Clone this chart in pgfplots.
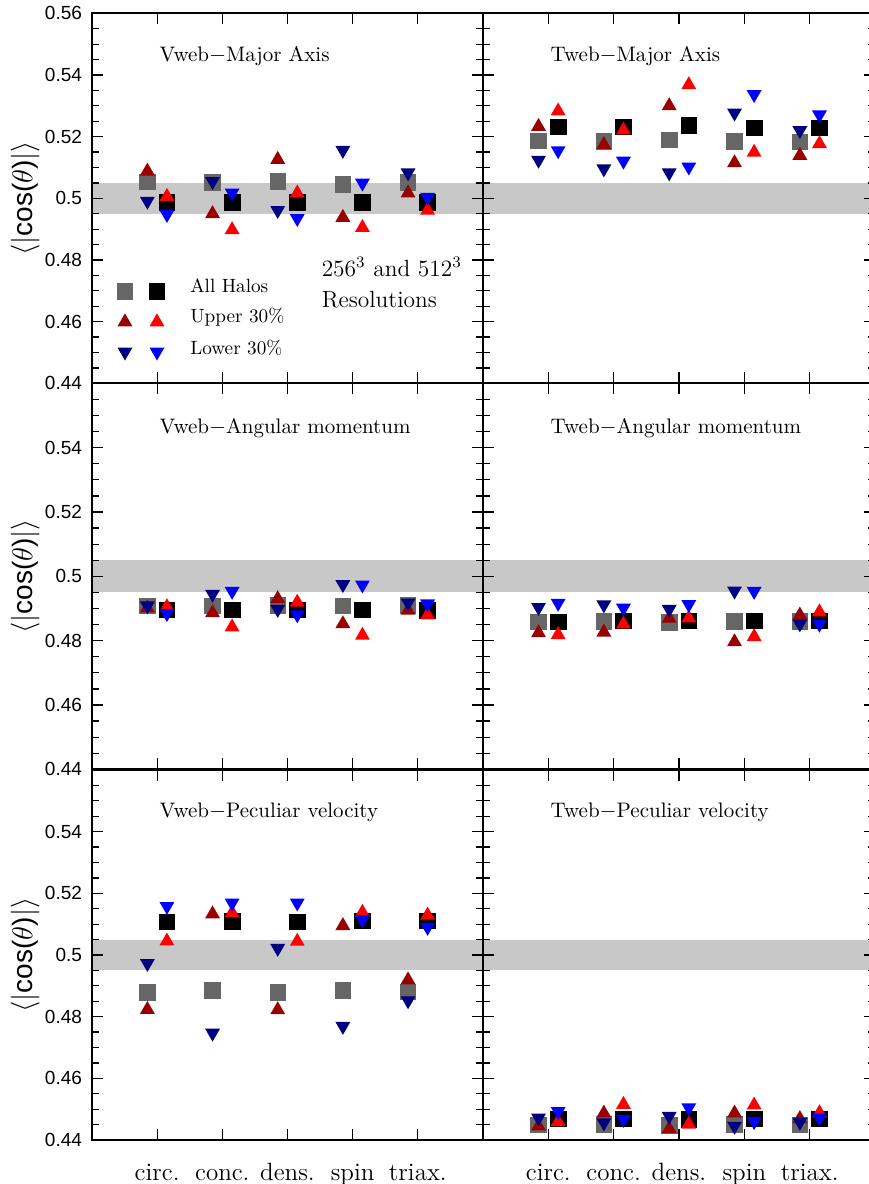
\documentclass[border=0pt]{standalone}
\usepackage{fontspec}
\usepackage{pgfplots}
\pgfplotsset{compat=1.18}
\newfontfamily\ticksans{Liberation Sans}

\definecolor{sqgray}{RGB}{102,102,102}
\definecolor{updark}{RGB}{153,0,0}
\definecolor{upred}{RGB}{255,0,0}
\definecolor{dnnavy}{RGB}{0,0,128}
\definecolor{dnblue}{RGB}{0,0,255}
\definecolor{bandgray}{RGB}{200,200,200}

% triangles centred on their bounding box
\pgfdeclareplotmark{utri}{%
  \pgfpathmoveto{\pgfqpoint{0pt}{0.75\pgfplotmarksize}}%
  \pgfpathlineto{\pgfqpoint{-0.866\pgfplotmarksize}{-0.75\pgfplotmarksize}}%
  \pgfpathlineto{\pgfqpoint{0.866\pgfplotmarksize}{-0.75\pgfplotmarksize}}%
  \pgfpathclose\pgfusepathqfill}
\pgfdeclareplotmark{dtri}{%
  \pgfpathmoveto{\pgfqpoint{0pt}{-0.75\pgfplotmarksize}}%
  \pgfpathlineto{\pgfqpoint{-0.866\pgfplotmarksize}{0.75\pgfplotmarksize}}%
  \pgfpathlineto{\pgfqpoint{0.866\pgfplotmarksize}{0.75\pgfplotmarksize}}%
  \pgfpathclose\pgfusepathqfill}

\pgfplotsset{
  panel/.style={
    scale only axis, anchor=north west,
    xmin=0, xmax=6, ymin=0.44, ymax=0.56,
    xtick={1,2,3,4,5}, xticklabels={},
    ytick={0.44,0.46,0.48,0.5,0.52,0.54,0.56}, yticklabels={},
    minor y tick num=3,
    tick align=inside, xtick pos=both, ytick pos=both,
    major tick length=5.5pt, minor tick length=3.3pt,
    axis line style={line width=0.9pt},
    every tick/.style={black, line width=0.6pt},
    yticklabel style={font=\ticksans\fontsize{9.5}{11}\selectfont, xshift=-1.5pt},
    xticklabel style={font=\fontsize{12.5}{14}\selectfont, anchor=base, yshift=-20pt},
    ylabel style={at={(axis description cs:-0.171,0.5)}, anchor=center,
                  font=\ticksans\fontsize{14}{16}\selectfont},
    axis on top, clip=false,
  },
  leftcol/.style={width=195.5pt, ylabel={$\langle|$cos($\theta$)$|\rangle$}},
  rightcol/.style={width=196pt},
  s256/.style={only marks, mark=square*, mark size=3.9pt, color=sqgray},
  s512/.style={only marks, mark=square*, mark size=3.9pt, color=black},
  u256/.style={only marks, mark=utri, mark size=4.3pt, color=updark},
  u512/.style={only marks, mark=utri, mark size=4.3pt, color=upred},
  d256/.style={only marks, mark=dtri, mark size=4.3pt, color=dnnavy},
  d512/.style={only marks, mark=dtri, mark size=4.3pt, color=dnblue},
}
\newcommand{\band}{\addplot[draw=none, fill=bandgray, forget plot]
  coordinates {(0,0.495) (6,0.495) (6,0.505) (0,0.505)} -- cycle;}
\newcommand{\ptitle}[1]{\node[anchor=base west, inner sep=0pt, font=\fontsize{10.5}{12}\selectfont]
  at (axis cs:1.03,0.5445) {#1};}
% heavier line between the two columns
\newcommand{\divider}{\draw[line width=1.4pt] (axis description cs:0,0) -- (axis description cs:0,1);}

\begin{document}
\begin{tikzpicture}

% ---------------- top left: Vweb - major axis
\begin{axis}[panel, leftcol, height=185pt, at={(46pt,-6.67pt)},
    yticklabels={0.44,0.46,0.48,0.5,0.52,0.54,0.56}]
\band
\addplot[s256] coordinates {(0.85,0.5053) (1.85,0.5051) (2.85,0.5055) (3.85,0.5046) (4.85,0.5052)};
\addplot[s512] coordinates {(1.15,0.4986) (2.15,0.4986) (3.15,0.4986) (4.15,0.4986) (5.15,0.4986)};
\addplot[u256] coordinates {(0.85,0.5095) (1.85,0.4957) (2.85,0.5133) (3.85,0.4945) (4.85,0.5024)};
\addplot[u512] coordinates {(1.15,0.5013) (2.15,0.4905) (3.15,0.5024) (4.15,0.4912) (5.15,0.4968)};
\addplot[d256] coordinates {(0.85,0.4984) (1.85,0.5048) (2.85,0.4954) (3.85,0.5149) (4.85,0.5076)};
\addplot[d512] coordinates {(1.15,0.4941) (2.15,0.5011) (3.15,0.4928) (4.15,0.5043) (5.15,0.4997)};
% legend markers
\addplot[s256] coordinates {(0.506,0.4699)};
\addplot[s512] coordinates {(0.997,0.4699)};
\addplot[u256] coordinates {(0.506,0.4606)};
\addplot[u512] coordinates {(0.997,0.4606)};
\addplot[d256] coordinates {(0.506,0.4495)};
\addplot[d512] coordinates {(0.997,0.4495)};
\ptitle{Vweb$-$Major Axis}
\begin{scope}[font=\fontsize{9.6}{11}\selectfont]
\node[anchor=base west, inner sep=0pt] at (axis cs:1.503,0.4695) {All Halos};
\node[anchor=base west, inner sep=0pt] at (axis cs:1.503,0.4597) {Upper 30\%};
\node[anchor=base west, inner sep=0pt] at (axis cs:1.503,0.4495) {Lower 30\%};
\end{scope}
\node[anchor=base west, inner sep=0pt, font=\fontsize{11.7}{13}\selectfont] at (axis cs:3.52,0.4746) {256$^3$ and 512$^3$};
\node[anchor=base west, inner sep=0pt, font=\fontsize{11.7}{13}\selectfont] at (axis cs:3.52,0.4646) {Resolutions};
\end{axis}

% ---------------- top right: Tweb - major axis
\begin{axis}[panel, rightcol, height=185pt, at={(241.5pt,-6.67pt)}]
\band
\addplot[s256] coordinates {(0.85,0.5186) (1.85,0.5184) (2.85,0.5189) (3.85,0.5184) (4.85,0.5183)};
\addplot[s512] coordinates {(1.15,0.5232) (2.15,0.5232) (3.15,0.5236) (4.15,0.5228) (5.15,0.5228)};
\addplot[u256] coordinates {(0.85,0.5240) (1.85,0.5181) (2.85,0.5307) (3.85,0.5122) (4.85,0.5146)};
\addplot[u512] coordinates {(1.15,0.5290) (2.15,0.5228) (3.15,0.5375) (4.15,0.5156) (5.15,0.5184)};
\addplot[d256] coordinates {(0.85,0.5117) (1.85,0.5089) (2.85,0.5076) (3.85,0.5270) (4.85,0.5213)};
\addplot[d512] coordinates {(1.15,0.5148) (2.15,0.5114) (3.15,0.5095) (4.15,0.5330) (5.15,0.5264)};
\ptitle{Tweb$-$Major Axis}
\divider
\end{axis}

% ---------------- middle left: Vweb - angular momentum
\begin{axis}[panel, leftcol, height=193pt, at={(46pt,-191.67pt)},
    yticklabels={0.44,0.46,0.48,0.5,0.52,0.54,{}}]
\band
\addplot[s256] coordinates {(0.85,0.4908) (1.85,0.4908) (2.85,0.4909) (3.85,0.4908) (4.85,0.4909)};
\addplot[s512] coordinates {(1.15,0.4896) (2.15,0.4896) (3.15,0.4896) (4.15,0.4896) (5.15,0.4895)};
\addplot[u256] coordinates {(0.85,0.4908) (1.85,0.4893) (2.85,0.4937) (3.85,0.4859) (4.85,0.4901)};
\addplot[u512] coordinates {(1.15,0.4912) (2.15,0.4849) (3.15,0.4926) (4.15,0.4823) (5.15,0.4886)};
\addplot[d256] coordinates {(0.85,0.4902) (1.85,0.4938) (2.85,0.4891) (3.85,0.4968) (4.85,0.4911)};
\addplot[d512] coordinates {(1.15,0.4878) (2.15,0.4947) (3.15,0.4874) (4.15,0.4967) (5.15,0.4908)};
\ptitle{Vweb$-$Angular momentum}
\end{axis}

% ---------------- middle right: Tweb - angular momentum
\begin{axis}[panel, rightcol, height=193pt, at={(241.5pt,-191.67pt)}]
\band
\addplot[s256] coordinates {(0.85,0.4859) (1.85,0.4860) (2.85,0.4857) (3.85,0.4860) (4.85,0.4860)};
\addplot[s512] coordinates {(1.15,0.4859) (2.15,0.4862) (3.15,0.4862) (4.15,0.4862) (5.15,0.4862)};
\addplot[u256] coordinates {(0.85,0.4831) (1.85,0.4833) (2.85,0.4876) (3.85,0.4803) (4.85,0.4886)};
\addplot[u512] coordinates {(1.15,0.4825) (2.15,0.4858) (3.15,0.4877) (4.15,0.4819) (5.15,0.4896)};
\addplot[d256] coordinates {(0.85,0.4897) (1.85,0.4905) (2.85,0.4891) (3.85,0.4948) (4.85,0.4846)};
\addplot[d512] coordinates {(1.15,0.4910) (2.15,0.4895) (3.15,0.4906) (4.15,0.4947) (5.15,0.4845)};
\ptitle{Tweb$-$Angular momentum}
\divider
\end{axis}

% ---------------- bottom left: Vweb - peculiar velocity
\begin{axis}[panel, leftcol, height=185pt, at={(46pt,-385pt)},
    yticklabels={0.44,0.46,0.48,0.5,0.52,0.54,{}},
    xticklabels={circ.,conc.,dens.,spin,triax.}]
\band
\addplot[s256] coordinates {(0.85,0.4878) (1.85,0.4885) (2.85,0.4878) (3.85,0.4885) (4.85,0.4880)};
\addplot[s512] coordinates {(1.15,0.5108) (2.15,0.5109) (3.15,0.5108) (4.15,0.5111) (5.15,0.5111)};
\addplot[u256] coordinates {(0.85,0.4830) (1.85,0.5140) (2.85,0.4829) (3.85,0.5102) (4.85,0.4926)};
\addplot[u512] coordinates {(1.15,0.5052) (2.15,0.5144) (3.15,0.5051) (4.15,0.5145) (5.15,0.5136)};
\addplot[d256] coordinates {(0.85,0.4966) (1.85,0.4740) (2.85,0.5015) (3.85,0.4762) (4.85,0.4845)};
\addplot[d512] coordinates {(1.15,0.5151) (2.15,0.5162) (3.15,0.5162) (4.15,0.5108) (5.15,0.5083)};
\ptitle{Vweb$-$Peculiar velocity}
\end{axis}

% ---------------- bottom right: Tweb - peculiar velocity
\begin{axis}[panel, rightcol, height=185pt, at={(241.5pt,-385pt)},
    xticklabels={circ.,conc.,dens.,spin,triax.}]
\band
\addplot[s256] coordinates {(0.85,0.4449) (1.85,0.4451) (2.85,0.4448) (3.85,0.4451) (4.85,0.4449)};
\addplot[s512] coordinates {(1.15,0.4469) (2.15,0.4469) (3.15,0.4467) (4.15,0.4469) (5.15,0.4469)};
\addplot[u256] coordinates {(0.85,0.4452) (1.85,0.4494) (2.85,0.4443) (3.85,0.4494) (4.85,0.4476)};
\addplot[u512] coordinates {(1.15,0.4466) (2.15,0.4522) (3.15,0.4458) (4.15,0.4520) (5.15,0.4495)};
\addplot[d256] coordinates {(0.85,0.4465) (1.85,0.4449) (2.85,0.4470) (3.85,0.4438) (4.85,0.4451)};
\addplot[d512] coordinates {(1.15,0.4486) (2.15,0.4460) (3.15,0.4498) (4.15,0.4453) (5.15,0.4465)};
\ptitle{Tweb$-$Peculiar velocity}
\divider
\end{axis}

\pgfresetboundingbox
\useasboundingbox (0,0) rectangle (434pt,-592pt);
\end{tikzpicture}
\end{document}
